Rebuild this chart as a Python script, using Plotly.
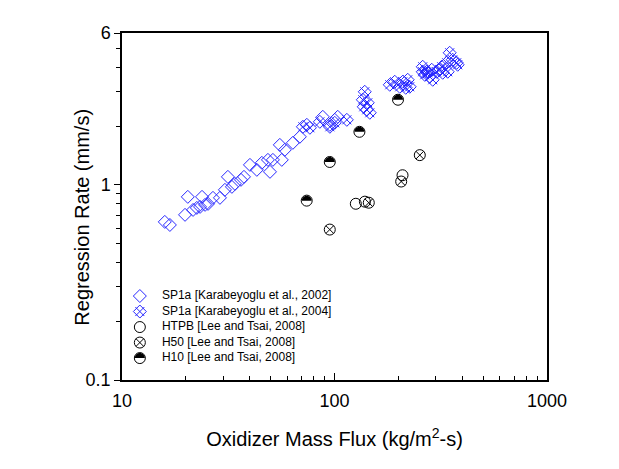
import plotly.graph_objects as go

# SP1a [Karabeyoglu et al., 2002]
sp02_flux = [15.9, 16.8, 19.8, 20.4, 21.6, 22.5, 23.3, 23.8, 24.6, 25.4, 26.8, 28.9,
             30.5, 31.5, 32.9, 34.0, 36.3, 37.5, 40.0, 43.1, 45.5, 48.6, 49.7, 51.3,
             55.3, 56.5, 58.4, 63.7, 68.7, 74.1, 88.1, 95.1, 100.3, 103.6]
sp02_rate = [0.646, 0.623, 0.702, 0.868, 0.744, 0.762, 0.771, 0.868, 0.790, 0.799, 0.858, 0.858,
             0.943, 1.099, 0.977, 1.012, 1.061, 1.099, 1.266, 1.194, 1.297, 1.343, 1.166, 1.343,
             1.603, 1.343, 1.512, 1.642, 1.763, 2.031, 2.232, 2.031, 2.154, 2.232]

# SP1a [Karabeyoglu et al., 2004]
sp04_flux = [71.0, 76.6, 85.3, 95.1, 100.3, 114.3,
             138.8, 135.9, 143.4, 141.9, 146.6, 137.3,
             182.0, 192.1, 202.8, 209.5, 221.1, 225.9, 216.4,
             260.1, 271.6, 274.6, 265.8, 280.6, 286.8, 260.1, 302.7, 312.6, 319.5,
             337.3, 348.4, 359.9, 375.8, 341.0, 323.0, 289.9, 379.9]
sp04_rate = [1.984, 1.961, 2.104, 1.984, 2.079, 2.154,
             2.999, 2.729, 2.634, 2.425, 2.341, 2.512,
             3.257, 3.375, 3.181, 3.375, 3.455, 3.181, 3.144,
             4.028, 3.798, 3.753, 3.665, 3.580, 3.889, 3.798, 3.798, 3.889, 4.028,
             4.223, 4.753, 4.375, 4.223, 3.798, 3.753, 3.455, 4.125]

# Lee and Tsai, 2008
htpb_flux = [126, 139, 209]
htpb_rate = [0.80, 0.82, 1.12]
h50_flux = [95, 145, 206, 252]
h50_rate = [0.59, 0.81, 1.04, 1.42]
h10_flux = [74, 95, 131, 199]
h10_rate = [0.83, 1.31, 1.87, 2.73]

legend_labels = ["SP1a [Karabeyoglu et al., 2002]", "SP1a [Karabeyoglu et al., 2004]",
                 "HTPB [Lee and Tsai, 2008]", "H50 [Lee and Tsai, 2008]",
                 "H10 [Lee and Tsai, 2008]"]

blue = "rgb(40,40,255)"
font = "Liberation Sans"

# marker styles per series: list of (symbol, size, color, fill)
styles = [
    [("diamond-open", 10, blue, None)],
    [("diamond-open", 10, blue, None), ("x-thin-open", 9, blue, None)],
    [("circle-open", 11, "black", None)],
    [("circle-x-open", 11, "black", None)],
    [("circle", 11, "black", "white")],
]
series = [(sp02_flux, sp02_rate), (sp04_flux, sp04_rate), (htpb_flux, htpb_rate),
          (h50_flux, h50_rate), (h10_flux, h10_rate)]

fig = go.Figure()

# legend rows drawn on an overlay axis (paper fractions of the plot area)
leg_x_sym, leg_x_txt = 0.042, 0.094
leg_y0, leg_dy = 0.242, 0.0447
leg_y = [leg_y0 - leg_dy * i for i in range(len(legend_labels))]

for (xs, ys), st, ly in zip(series, styles, leg_y):
    for sym, sz, col, fill in st:
        mk = dict(symbol=sym, size=sz, color=fill or col, line=dict(width=1, color=col))
        fig.add_trace(go.Scatter(x=xs, y=ys, mode="markers", marker=mk, hoverinfo="x+y"))
        fig.add_trace(go.Scatter(x=[leg_x_sym], y=[ly], xaxis="x2", yaxis="y2",
                                 mode="markers", marker=mk, hoverinfo="skip"))

fig.add_trace(go.Scatter(x=[leg_x_txt] * len(legend_labels), y=leg_y, xaxis="x2", yaxis="y2",
                         mode="text", text=legend_labels, textposition="middle right",
                         textfont=dict(size=12, family=font, color="black"), hoverinfo="skip"))

# upper half fill of the H10 circles (pixel-sized shapes anchored at the data)
r, k = 5.0, 0.5523
half = (f"M {-r},0 C {-r},{k*r} {-k*r},{r} 0,{r} "
        f"C {k*r},{r} {r},{k*r} {r},0 Z")
anchors = [("x", "y", fx, ry) for fx, ry in zip(h10_flux, h10_rate)]
anchors.append(("x2", "y2", leg_x_sym, leg_y[4]))
for xr, yr, ax_, ay_ in anchors:
    fig.add_shape(type="path", xref=xr, yref=yr, xsizemode="pixel", ysizemode="pixel",
                  xanchor=ax_, yanchor=ay_, path=half, fillcolor="black",
                  line=dict(width=0), layer="above")

fig.add_annotation(text="Regression Rate (mm/s)", xref="paper", yref="paper",
                   x=-0.094, y=0.468, xanchor="center", yanchor="middle", textangle=-90,
                   showarrow=False, font=dict(size=20, family=font, color="black"))

fig.update_layout(
    width=619, height=469,
    margin=dict(l=114, r=80, t=25, b=97),
    paper_bgcolor="white", plot_bgcolor="white",
    font=dict(family=font, size=18, color="black"),
    showlegend=False,
    xaxis=dict(type="log", range=[1, 3],
               tickvals=[10, 100, 1000], ticktext=["10", "100", "1000"],
               tickfont=dict(family=font, size=18, color="black"),
               ticks="inside", ticklen=7, tickwidth=1.2, tickcolor="black",
               ticklabelstandoff=4,
               minor=dict(ticks="inside", ticklen=4, tickcolor="black",
                          tickvals=[20, 30, 40, 50, 60, 70, 80, 90,
                                    200, 300, 400, 500, 600, 700, 800, 900]),
               showline=True, linecolor="black", linewidth=1.5, mirror=True,
               showgrid=False, zeroline=False,
               title=dict(text="Oxidizer Mass Flux (kg/m<sup>2</sup>-s)", standoff=22,
                          font=dict(family=font, size=20, color="black"))),
    yaxis=dict(type="log", range=[-1, 0.77815],
               tickvals=[0.1, 1, 6], ticktext=["0.1", "1", "6"],
               tickfont=dict(family=font, size=18, color="black"),
               ticks="outside", ticklen=6, tickwidth=1.2, tickcolor="black",
               minor=dict(ticks="outside", ticklen=4, tickcolor="black",
                          tickvals=[0.2, 0.3, 0.4, 0.5, 0.6, 0.7, 0.8, 0.9, 2, 3, 4, 5]),
               showline=True, linecolor="black", linewidth=1.5, mirror=True,
               showgrid=False, zeroline=False),
    xaxis2=dict(overlaying="x", range=[0, 1], visible=False, anchor="y2"),
    yaxis2=dict(overlaying="y", range=[0, 1], visible=False, anchor="x2"),
)

fig.write_html("out.html")
